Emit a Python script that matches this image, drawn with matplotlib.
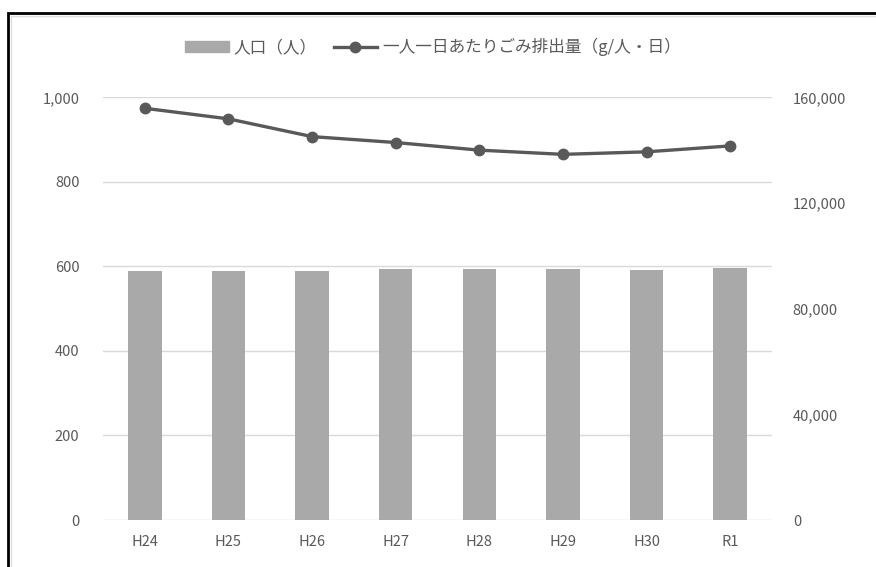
import matplotlib
matplotlib.use("Agg")
import matplotlib.pyplot as plt
from matplotlib.patches import Rectangle, Patch
from matplotlib.lines import Line2D
import numpy as np

plt.rcParams['font.family'] = ['Noto Sans CJK JP', 'DejaVu Sans']

years = ["H24", "H25", "H26", "H27", "H28", "H29", "H30", "R1"]
population = [94400, 94300, 94300, 94900, 94900, 94900, 94800, 95500]
waste_per_day = [974, 949, 907, 893, 875, 865, 871, 885]

pop_label = "人口（人）"
waste_label = "一人一日あたりごみ排出量（g/人・日）"
left_ticks = [0, 200, 400, 600, 800, 1000]
right_ticks = [0, 40000, 80000, 120000, 160000]

text_c = "#595959"
bar_c = "#a9a9a9"
line_c = "#595959"
grid_c = "#d9d9d9"

W, H = 876, 567
fig = plt.figure(figsize=(W / 100, H / 100), dpi=100)
ax = fig.add_axes([103 / W, 1 - 520 / H, (772 - 103) / W, (520 - 97.3) / H])
ax2 = ax.twinx()

x = np.arange(len(years))

# bars on the right-hand scale (ax), line on the left-hand scale (ax2, drawn on top)
ax.bar(x, population, width=0.4, color=bar_c, zorder=2)
ax.set_ylim(0, 160000)
ax.set_xlim(-0.5, len(years) - 0.5)
ax.yaxis.tick_right()
ax.set_yticks(right_ticks)
ax.set_yticklabels(["{:,}".format(v) for v in right_ticks])
# gridlines follow the left-hand ticks
ax.yaxis.remove_overlapping_locs = False
ax.set_yticks(np.linspace(0, 160000, len(left_ticks)), minor=True)
ax.grid(which="minor", axis="y", color=grid_c, lw=1)
ax.grid(which="major", visible=False)
ax.set_axisbelow(True)
ax.set_xticks(x)
ax.set_xticklabels(years)
ax.tick_params(axis="y", which="both", length=0, pad=15, labelsize=10.5, labelcolor=text_c)
ax.tick_params(axis="x", length=0, pad=11, labelsize=10.5, labelcolor=text_c)
for s in ax.spines.values():
    s.set_visible(False)

ax2.plot(x, waste_per_day, color=line_c, lw=2.4, marker="o", ms=7.5, zorder=3)
ax2.set_ylim(0, 1000)
ax2.yaxis.tick_left()
ax2.set_yticks(left_ticks)
ax2.set_yticklabels(["{:,}".format(v) for v in left_ticks])
ax2.tick_params(axis="y", length=0, pad=17, labelsize=10.5, labelcolor=text_c)
for s in ax2.spines.values():
    s.set_visible(False)

handles = [Patch(color=bar_c),
           Line2D([], [], color=line_c, lw=2.4, marker="o", ms=7.5)]
fig.legend(handles, [pop_label, waste_label], loc="center",
           bbox_to_anchor=(433 / W, 1 - 47 / H), ncol=2, frameon=False,
           fontsize=12, labelcolor=text_c, handlelength=2.6, handleheight=0.6,
           handletextpad=0.3, columnspacing=1.0)

# outer frame, cut off at right and bottom like the screenshot
fig.add_artist(Rectangle((8 / W, -0.05), 1.1, 1 - 13 / H + 0.05,
                         transform=fig.transFigure, fill=False,
                         edgecolor="black", lw=2))
fig.add_artist(Rectangle((11 / W, -0.05), 1.1, 1 - 16 / H + 0.05,
                         transform=fig.transFigure, fill=False,
                         edgecolor="#dcdcdc", lw=1))

fig.savefig("out.png", dpi=100)
